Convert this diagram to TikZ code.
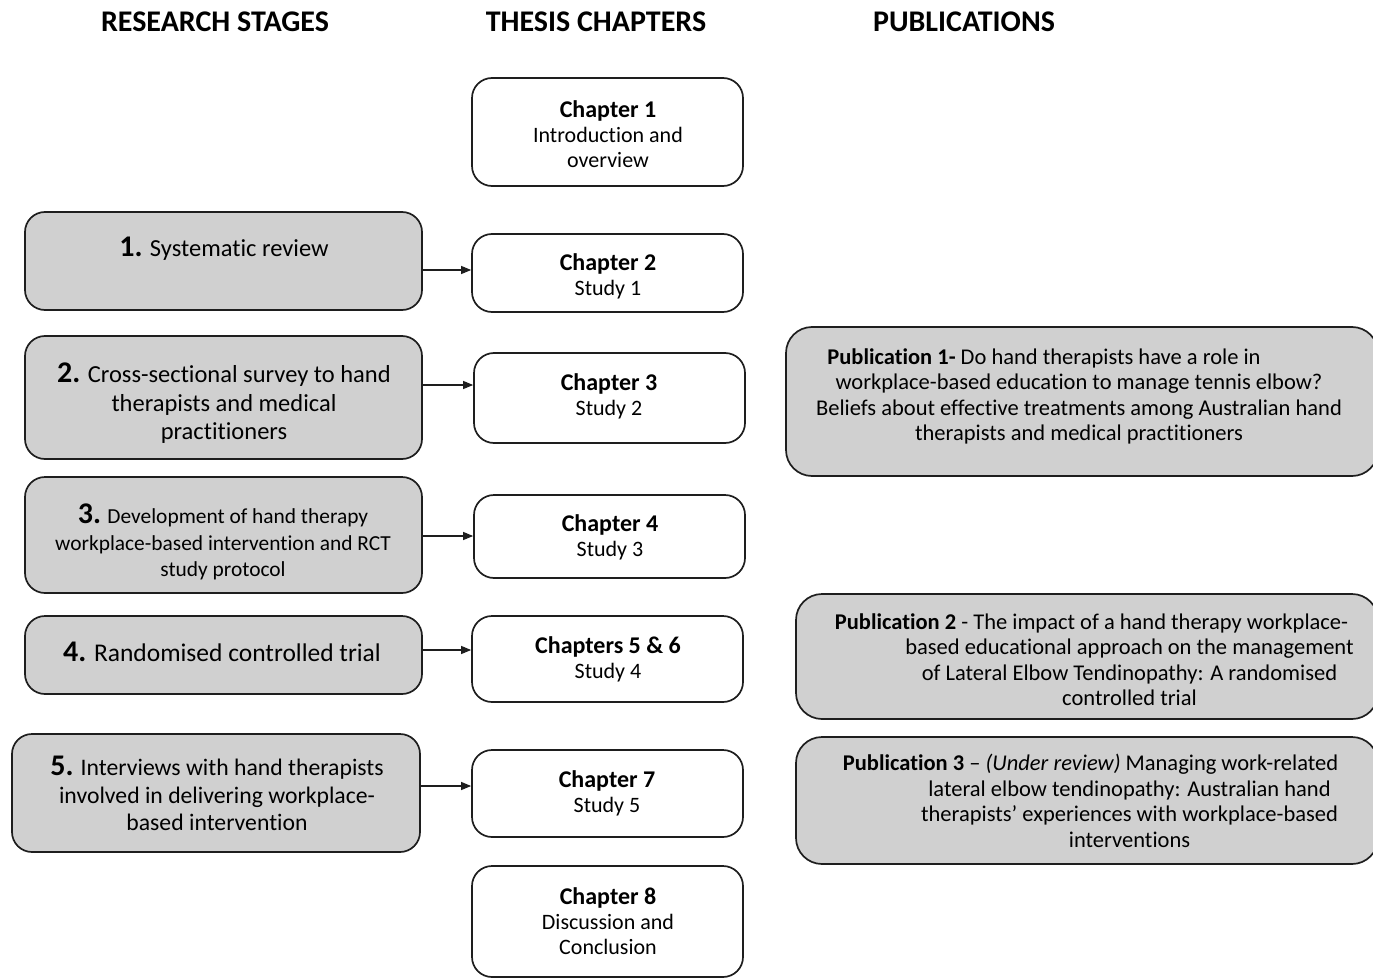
\documentclass[tikz,border=0pt]{standalone}
\usepackage{fontspec}
\setmainfont{Carlito}[Ligatures={NoCommon}]
\usetikzlibrary{arrows.meta}
\definecolor{boxgray}{RGB}{208,208,208}
\definecolor{edge}{RGB}{30,30,30}
\tikzset{
  base/.style={draw=edge, line width=1.7pt, rounded corners=20pt, inner sep=0pt},
  stagebox/.style={base, fill=boxgray},
  chapbox/.style={base, fill=white},
  pubbox/.style={base, fill=boxgray, rounded corners=26pt},
  txt/.style={align=center, inner sep=0pt},
  head/.style={inner sep=0pt, font=\fontsize{30}{30}\selectfont\bfseries},
  stagetxt/.style={txt, font=\fontsize{24.5}{28.5}\selectfont},
  chaptxt/.style={txt, font=\fontsize{22}{25}\selectfont},
  pubtxt/.style={txt, font=\fontsize{22.5}{25.5}\selectfont},
  arr/.style={draw=edge, line width=1.1pt, -{Triangle[length=10pt,width=8pt]}}
}
\newcommand{\num}[1]{{\fontsize{30}{30}\selectfont\bfseries #1}}
\newcommand{\chap}[1]{{\fontsize{24}{25}\selectfont\bfseries #1}}
\begin{document}
\begin{tikzpicture}[x=1pt, y=-1pt]
\useasboundingbox (0,0) rectangle (1373,979);
\clip (0,0) rectangle (1373,979);

% column headings
\node[head] (hs) at (215,22) {RESEARCH STAGES};
\node[head] (hc) at (596,22) {THESIS CHAPTERS};
\node[head] (hp) at (964,22) {PUBLICATIONS};

% research stages
\node[stagebox, minimum width=397pt, minimum height=98pt]  (s1) at (223.5,261) {};
\node[stagebox, minimum width=397pt, minimum height=123pt] (s2) at (223.5,397.5) {};
\node[stagebox, minimum width=397pt, minimum height=116pt] (s3) at (223.5,535) {};
\node[stagebox, minimum width=397pt, minimum height=78pt]  (s4) at (223.5,655) {};
\node[stagebox, minimum width=408pt, minimum height=118pt] (s5) at (216,793) {};

\node[stagetxt] (t1) at (224,249) {\num{1.} Systematic review};
\node[stagetxt] (t2) at (224,403.5) {\num{2.} Cross-sectional survey to hand\\therapists and medical\\practitioners};
\node[stagetxt, font=\fontsize{21.4}{26.5}\selectfont] (t3) at (223,542) {\num{3.} Development of hand therapy\\workplace-based intervention and RCT\\study protocol};
\node[stagetxt, font=\fontsize{25.5}{28.5}\selectfont] (t4) at (222,652) {\num{4.} Randomised controlled trial};
\node[stagetxt, font=\fontsize{23.7}{27.5}\selectfont] (t5) at (217,793.5) {\num{5.} Interviews with hand therapists\\involved in delivering workplace-\\based intervention};

% thesis chapters
\node[chapbox, minimum width=271pt, minimum height=108pt] (c1) at (607.5,132) {};
\node[chapbox, minimum width=271pt, minimum height=78pt]  (c2) at (607.5,273) {};
\node[chapbox, minimum width=271pt, minimum height=90pt]  (c3) at (609.5,398) {};
\node[chapbox, minimum width=271pt, minimum height=83pt]  (c4) at (609.5,536.5) {};
\node[chapbox, minimum width=271pt, minimum height=86pt]  (c5) at (607.5,659) {};
\node[chapbox, minimum width=271pt, minimum height=87pt]  (c7) at (607.5,793.5) {};
\node[chapbox, minimum width=271pt, minimum height=111pt] (c8) at (607.5,921.5) {};

\node[chaptxt] (d1) at (608,134) {\chap{Chapter 1}\\Introduction and\\overview};
\node[chaptxt] (d2) at (608,276) {\chap{Chapter 2}\\Study 1};
\node[chaptxt] (d3) at (609,396) {\chap{Chapter 3}\\Study 2};
\node[chaptxt] (d4) at (610,537) {\chap{Chapter 4}\\Study 3};
\node[chaptxt] (d5) at (608,659) {\chap{Chapters 5 \& 6}\\Study 4};
\node[chaptxt] (d7) at (607,793) {\chap{Chapter 7}\\Study 5};
\node[chaptxt] (d8) at (608,921) {\chap{Chapter 8}\\Discussion and\\Conclusion};

% publications
\node[pubbox, minimum width=592pt, minimum height=149pt] (p1) at (1082,401.5) {};
\node[pubbox, minimum width=582pt, minimum height=125pt] (p2) at (1087,656.5) {};
\node[pubbox, minimum width=582pt, minimum height=127pt] (p3) at (1087,800.5) {};

\node[pubtxt] (q1) at (1079,396.5) {\textbf{Publication 1-} Do hand therapists have a role in\hspace*{70pt}\\workplace-based education to manage tennis elbow?\\Beliefs about effective treatments among Australian hand\\therapists and medical practitioners};
\node[pubtxt] (q2) at (1129.5,659.5) {\textbf{Publication 2} - The impact of a hand therapy workplace-\hspace*{76pt}\\based educational approach on the management\\of Lateral Elbow Tendinopathy: A randomised\\controlled trial};
\node[pubtxt] (q3) at (1129.5,801) {\textbf{Publication 3} -- \textit{(Under review)} Managing work-related\hspace*{78pt}\\lateral elbow tendinopathy: Australian hand\\therapists' experiences with workplace-based\\interventions};

% stage-to-chapter arrows
\draw[arr] ([yshift=-9pt]s1.east) -- ([yshift=3pt]c2.west);
\draw[arr] ([yshift=12.5pt]s2.east) -- ([yshift=13pt]c3.west);
\draw[arr] ([yshift=-1pt]s3.east) -- ([yshift=0.5pt]c4.west);
\draw[arr] ([yshift=5pt]s4.east) -- ([yshift=9pt]c5.west);
\draw[arr] ([yshift=7pt]s5.east) -- ([yshift=7.5pt]c7.west);
\end{tikzpicture}
\end{document}
